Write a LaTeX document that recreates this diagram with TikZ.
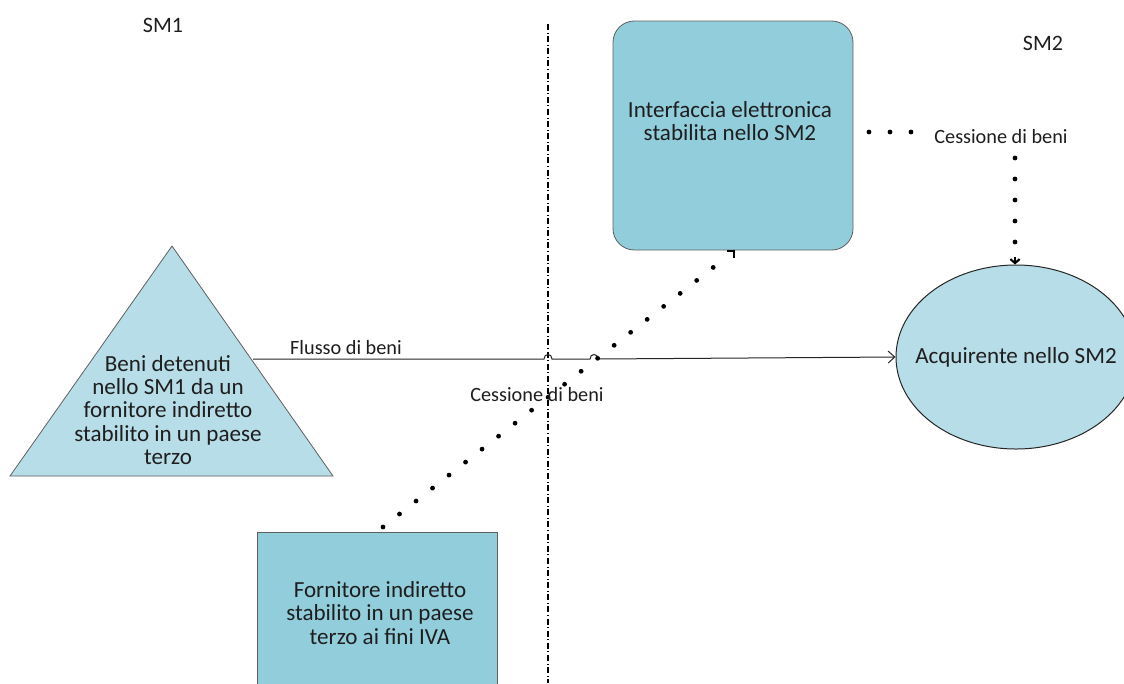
\documentclass[tikz,border=0pt]{standalone}
\usepackage{fontspec}
\setmainfont{Carlito}
\usetikzlibrary{shapes.geometric,arrows.meta}
\definecolor{boxblue}{RGB}{146,205,220}
\definecolor{lightblue}{RGB}{183,221,232}
\definecolor{txt}{RGB}{30,30,30}
\begin{document}
\begin{tikzpicture}[x=0.75pt,y=-0.75pt,
  big/.style={font=\fontsize{17.3}{17.4}\selectfont, align=center, text=txt, inner sep=0pt},
  head/.style={font=\fontsize{16.5}{18}\selectfont, text=txt, inner sep=0pt},
  lbl/.style={font=\fontsize{15.2}{17}\selectfont, text=txt, inner sep=1pt},
  dotline/.style={line width=3.6pt, dash pattern=on 0pt off 15.75pt, line cap=round},
  dashdotline/.style={line width=0.9pt, dash pattern=on 4.5pt off 2pt on 0.6pt off 2pt},
  boxstyle/.style={draw=gray!75!black, line width=0.6pt, fill=boxblue, inner sep=0pt},
  flowline/.style={line width=0.75pt, draw=black!85}]
\useasboundingbox (0,0) rectangle (1124,683);
\clip (0,0) rectangle (1124,683);
\fill[white] (0,0) rectangle (1124,683);

% region labels
\node[head] (sm1) at (163,25) {SM1};
\node[head] (sm2) at (1043,43) {SM2};

% dash-dot border
\coordinate (vtop) at (548,24);
\coordinate (vbot) at (548,683);
\draw[dashdotline] (vtop) -- (vbot);

% electronic interface
\node[boxstyle, rounded corners=16pt, minimum width=180pt, minimum height=171.75pt] (ie) at (733,135.5) {};
\node[big] (ietext) at (730,121) {Interfaccia elettronica\\stabilita nello SM2};

% triangle
\coordinate (tapex) at (172,246);
\coordinate (tright) at (333,476);
\coordinate (tleft) at (10,476);
\draw[draw=gray!75!black, line width=0.6pt, fill=lightblue] (tapex) -- (tright) -- (tleft) -- cycle;
\node[big] (beni) at (168,410) {Beni detenuti\\nello SM1 da un\\fornitore indiretto\\stabilito in un paese\\terzo};

% buyer
\node[ellipse, draw=black!85, line width=0.75pt, fill=lightblue, minimum width=180pt, minimum height=138pt, inner sep=0pt] (acq) at (1016,357) {};
\node[big] (acqtext) at (1016,357) {Acquirente nello SM2};

% indirect supplier
\node[boxstyle, minimum width=180pt, minimum height=141pt] (forn) at (377,626) {};
\node[big] (forntext) at (380,613) {Fornitore indiretto\\stabilito in un paese\\terzo ai fini IVA};

% flow of goods
\coordinate (fstart) at (253,359);
\draw[flowline, -{Straight Barb[length=5pt,width=9pt]}] (fstart) -- (544,359)
  .. controls (544,353) and (552,353) .. (552,359) -- (590,359)
  .. controls (590,353) and (598,353) .. (598,359) -- (acq.west);
\node[lbl] (flusso) at (346,348) {Flusso di beni};

% supply from supplier to interface
\coordinate (dstart) at (383,527);
\coordinate (dend) at (729,255);
\draw[dotline] (dstart) -- (dend);
\draw[line width=2.2pt] (727,251) -- (734,251) -- (734,258);
\node[lbl] (ces1) at (537,395) {Cessione di beni};

% supply from interface to buyer
\coordinate (hstart) at (869,132);
\node[lbl] (ces2) at (1001,137) {Cessione di beni};
\draw[dotline] (hstart) -- ([xshift=-9pt]ces2.west |- hstart);
\coordinate (vstart) at (1015,158);
\coordinate (vend) at (1015,245);
\draw[dotline] (vstart) -- (vend);
\draw[line width=1.6pt, -{Straight Barb[length=3pt,width=7pt]}] (1015,257) -- (acq.north -| vend);
\end{tikzpicture}
\end{document}
